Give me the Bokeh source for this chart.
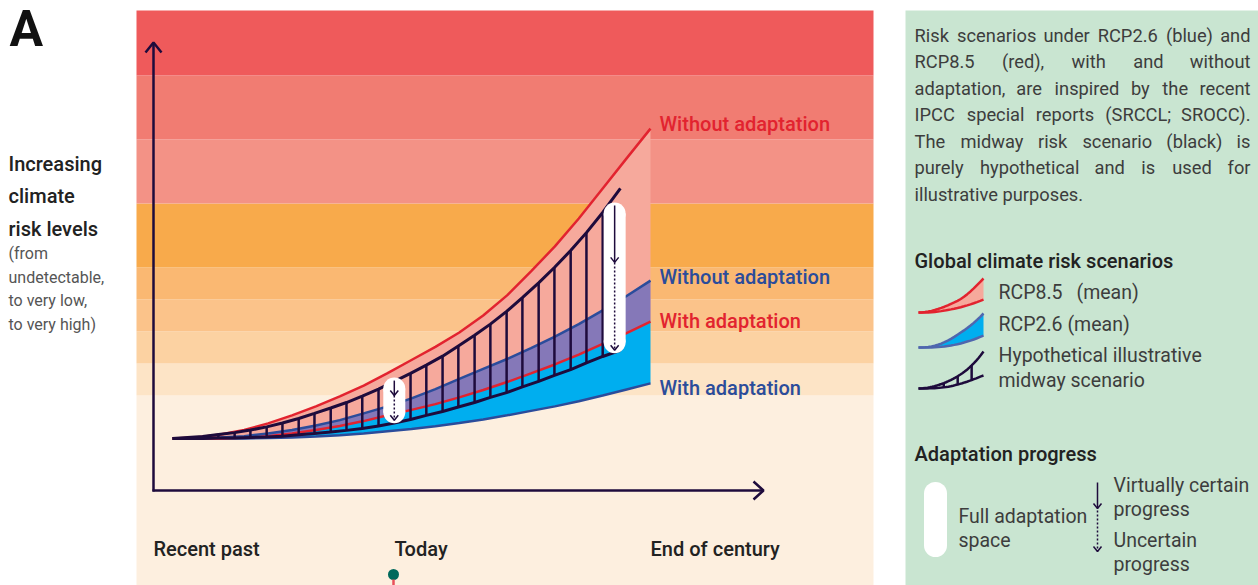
from bokeh.plotting import figure
from bokeh.models import Range1d
from bokeh.core.properties import value
from bokeh.embed import file_html
from bokeh.resources import INLINE

# ---------------- data (time index 0 = recent past, 10 = end of century; risk level units) -------------
time_t = [0, 0.5, 1, 1.5, 2, 2.5, 3, 3.5, 4, 4.5, 5, 5.5, 6, 6.5, 7, 7.5, 8, 8.5, 9, 9.5, 10]
rcp85_without = [1.66, 1.69, 1.78, 1.92, 2.13, 2.38, 2.66, 2.97, 3.31, 3.70, 4.11,
                 4.52, 4.97, 5.50, 6.13, 6.88, 7.66, 8.53, 9.47, 10.41, 11.34]
rcp85_with = [1.66, 1.66, 1.66, 1.69, 1.73, 1.81, 1.92, 2.05, 2.20, 2.38, 2.55,
              2.73, 2.94, 3.17, 3.42, 3.69, 3.97, 4.28, 4.61, 4.95, 5.31]
rcp26_without = [1.66, 1.66, 1.69, 1.73, 1.81, 1.92, 2.06, 2.23, 2.44, 2.66, 2.91,
                 3.20, 3.52, 3.83, 4.14, 4.48, 4.84, 5.23, 5.66, 6.11, 6.59]
rcp26_with = [1.66, 1.66, 1.66, 1.66, 1.67, 1.69, 1.72, 1.76, 1.81, 1.88, 1.95,
              2.04, 2.14, 2.25, 2.38, 2.52, 2.66, 2.82, 3.00, 3.19, 3.38]

midway_t = [0.00, 0.63, 0.96, 1.30, 1.63, 1.97, 2.30, 2.64, 2.97, 3.31, 3.64, 3.97, 4.31, 4.64,
            4.98, 5.31, 5.65, 5.98, 6.32, 6.65, 6.99, 7.32, 7.66, 7.99, 8.33, 8.66, 9.00, 9.37]
midway_upper = [1.66, 1.72, 1.78, 1.84, 1.92, 2.02, 2.14, 2.28, 2.44, 2.61, 2.78, 2.98, 3.20, 3.44,
                3.69, 3.95, 4.23, 4.55, 4.88, 5.23, 5.63, 6.06, 6.52, 7.00, 7.53, 8.09, 8.72, 9.47]
midway_lower = [1.66, 1.66, 1.67, 1.67, 1.69, 1.70, 1.73, 1.77, 1.81, 1.86, 1.91, 1.97, 2.05, 2.14,
                2.25, 2.38, 2.50, 2.64, 2.78, 2.94, 3.09, 3.27, 3.44, 3.63, 3.81, 4.02, 4.22, 4.41]

# adaptation space (today, near end of century)
adapt_t = [4.64, 9.25]
adapt_top = [3.56, 9.03]
adapt_bottom = [2.13, 4.32]
adapt_certain = [3.00, 7.16]

# risk level bands
band_low = [-3, 3, 4, 5, 6, 7, 9, 11, 13]
band_high = [3, 4, 5, 6, 7, 9, 11, 13, 15.03]

time_labels = ["Recent past", "Today", "End of century"]

# ---------------- styles ----------------
band_colors = ["#FDEFDF", "#FDE4C6", "#FCD2A2", "#FBC38A", "#FAB872", "#F8AA4B",
               "#F39286", "#F17C72", "#EF5A5B"]
NAVY = "#1E0B3C"
RED = "#E2232F"
BLUE = "#2B4C9B"
SALMON = "#F6A99C"
PURPLE = "#8578B8"
CYAN = "#00AEEF"
TXT = "#3D3D3D"
DARK = "#222222"
FONT = value("Roboto")
FONT_MED = value("Roboto Medium, Roboto")

PXT = 47.8   # pixels per time unit
PXR = 32.0   # pixels per risk unit
WIDTH, HEIGHT = 1258, 585


def sx(px):
    return (px - 172) / PXT


def sy(py):
    return (491 - py) / PXR


p = figure(width=WIDTH, height=HEIGHT, x_range=Range1d(sx(0), sx(WIDTH)), y_range=Range1d(sy(HEIGHT), sy(0)),
           output_backend="svg", toolbar_location=None, x_axis_location=None, y_axis_location=None,
           min_border=0, outline_line_color=None, background_fill_color="white",
           border_fill_color="white")
p.grid.visible = False


def label(x, y, s, size, color, bold=False, align="left"):
    p.text(x=[sx(x)], y=[sy(y)], text=[s], text_font=FONT_MED if bold else FONT,
           text_font_size=f"{size}px", text_color=color, text_font_style="normal",
           text_align=align, text_baseline="middle")


# ---------------- panels ----------------
p.quad(left=sx(136), right=sx(873), bottom=band_low, top=band_high, fill_color=band_colors, line_color=None)
p.quad(left=[sx(905)], right=[sx(1262)], bottom=[sy(590)], top=[sy(10)], fill_color="#C9E5D1", line_color=None)

# ---------------- scenario fills ----------------
p.varea(x=time_t, y1=rcp85_with, y2=rcp85_without, fill_color=SALMON)
p.varea(x=time_t, y1=rcp85_with, y2=rcp26_without, fill_color=PURPLE)
p.varea(x=time_t, y1=rcp26_with, y2=rcp85_with, fill_color=CYAN)

p.line(time_t, rcp26_with, line_color=BLUE, line_width=2.5)
p.line(time_t, rcp85_with, line_color=RED, line_width=2.5)
p.line(time_t, rcp26_without, line_color=BLUE, line_width=2.5)
p.line(time_t, rcp85_without, line_color=RED, line_width=2.5)

# midway scenario
p.segment(x0=midway_t[1:-1], y0=midway_upper[1:-1], x1=midway_t[1:-1], y1=midway_lower[1:-1],
          line_color=NAVY, line_width=2.5)
p.line(midway_t, midway_upper, line_color=NAVY, line_width=3)
p.line(midway_t, midway_lower, line_color=NAVY, line_width=3)

# adaptation pills
rpad = 11 / PXR
p.vbar(x=adapt_t, width=22 / PXT, top=[v - rpad for v in adapt_top],
       bottom=[v + rpad for v in adapt_bottom], fill_color="white", line_color=None)
p.scatter(x=adapt_t + adapt_t, y=[v - rpad for v in adapt_top] + [v + rpad for v in adapt_bottom],
          size=22, marker="circle", fill_color="white", line_color=None)
off = 3 / PXR
hx = 4 / PXT
hy = 5 / PXR
p.segment(x0=adapt_t, y0=[v - off for v in adapt_top], x1=adapt_t, y1=adapt_certain,
          line_color=NAVY, line_width=1.5)
p.segment(x0=adapt_t, y0=adapt_certain, x1=adapt_t, y1=[v + off for v in adapt_bottom],
          line_color=NAVY, line_width=1.5, line_dash="2 2")
heads_x = []
heads_y = []
for t, c, b in zip(adapt_t, adapt_certain, adapt_bottom):
    for tip in (c, b + off):
        heads_x.append([t - hx, t, t + hx])
        heads_y.append([tip + hy, tip, tip + hy])
p.multi_line(heads_x, heads_y, line_color=NAVY, line_width=1.5)

# axes with arrows
p.line([sx(153), sx(153)], [sy(491), sy(43)], line_color=NAVY, line_width=2.5)
p.line([sx(145), sx(153), sx(161)], [sy(52), sy(42), sy(52)], line_color=NAVY, line_width=2.5)
p.line([sx(152), sx(762)], [sy(490), sy(490)], line_color=NAVY, line_width=2.5)
p.line([sx(753), sx(763), sx(753)], [sy(481), sy(490), sy(499)], line_color=NAVY, line_width=2.5)

# scenario labels
label(659, 123, "Without adaptation", 20, RED, bold=True)
label(659, 276, "Without adaptation", 20, BLUE, bold=True)
label(659, 320, "With adaptation", 20, RED, bold=True)
label(659, 387, "With adaptation", 20, BLUE, bold=True)

# time labels
for xpx, s in zip([153, 394, 650], time_labels):
    label(xpx, 548, s, 20, DARK, bold=True)
p.scatter(x=[sx(393)], y=[sy(574)], size=11, marker="circle", fill_color="#00695C", line_color=None)
p.line([sx(393), sx(393)], [sy(579), sy(590)], line_color="#E8505B", line_width=2.5)

# left texts
p.text(x=[sx(9)], y=[sy(28)], text=["A"], text_font=FONT, text_font_size="50px", text_color="#111111",
       text_font_style="bold", text_align="left", text_baseline="middle")
for yy, s in zip([163, 195, 228], ["Increasing", "climate", "risk levels"]):
    label(8, yy, s, 20, DARK, bold=True)
for yy, s in zip([253, 277, 300, 324], ["(from", "undetectable,", "to very low,", "to very high)"]):
    label(8, yy, s, 16, "#555555")

# paragraph (justified by word placement)
ADV = {" ": 0.248, "a": 0.532, "b": 0.547, "c": 0.510, "d": 0.550, "e": 0.517, "f": 0.340,
       "g": 0.547, "h": 0.538, "i": 0.237, "k": 0.495, "l": 0.237, "m": 0.856, "n": 0.539,
       "o": 0.557, "p": 0.547, "r": 0.331, "s": 0.503, "t": 0.319, "u": 0.538, "v": 0.473,
       "w": 0.733, "y": 0.462, "R": 0.602, "C": 0.636, "P": 0.616, "I": 0.272, "S": 0.579,
       "L": 0.526, "O": 0.671, "T": 0.597, ".": 0.257, ",": 0.192, "(": 0.334, ")": 0.340,
       ";": 0.207}


def tw(s, size):
    return sum(ADV.get(ch, 0.562) for ch in s) * size


PSIZE = 18.3
para_lines = [
    "Risk scenarios under RCP2.6 (blue) and",
    "RCP8.5 (red), with and without",
    "adaptation, are inspired by the recent",
    "IPCC special reports (SRCCL; SROCC).",
    "The midway risk scenario (black) is",
    "purely hypothetical and is used for",
]
para_y = [34.5, 61, 87.5, 114, 140.5, 167]
left_px, right_px = 914, 1250
for yy, line in zip(para_y, para_lines):
    words = line.split(" ")
    widths = [tw(w, PSIZE) for w in words]
    gap = (right_px - left_px - sum(widths)) / (len(words) - 1)
    xx = left_px
    for w, wd in zip(words[:-1], widths[:-1]):
        label(xx, yy, w, PSIZE, TXT)
        xx += wd + gap
    label(right_px, yy, words[-1], PSIZE, TXT, align="right")
label(914, 193.5, "illustrative purposes.", PSIZE, TXT)

# legend: global climate risk scenarios
label(914, 260, "Global climate risk scenarios", 20, DARK, bold=True)


def icon(x0, x1, ybase, ytop, upper, lower, ts, fill, line_col):
    k = (ybase - ytop) / (max(upper) - upper[0])
    tmax = ts[-1]
    xs = [sx(x0 + t / tmax * (x1 - x0)) for t in ts]
    yu = [sy(ybase - (r - upper[0]) * k) for r in upper]
    yl = [sy(ybase - (r - lower[0]) * k) for r in lower]
    if fill:
        p.varea(x=xs, y1=yl, y2=yu, fill_color=fill)
    p.line(xs, yl, line_color=line_col, line_width=2.5)
    p.line(xs, yu, line_color=line_col, line_width=2.5)
    return xs, yu, yl


icon(918, 983, 312, 278, rcp85_without, rcp85_with, time_t, SALMON, RED)
icon(918, 983, 347, 313, rcp26_without, rcp26_with, time_t, CYAN, "#4F66AE")
mx, mu, ml = icon(918, 983, 388, 351, midway_upper, midway_lower, midway_t, None, NAVY)
sel = [10, 16, 22]
p.segment(x0=[mx[i] for i in sel], y0=[mu[i] for i in sel], x1=[mx[i] for i in sel],
          y1=[ml[i] for i in sel], line_color=NAVY, line_width=2.5)

LSIZE = 19.5
label(998, 292, "RCP8.5", LSIZE, TXT)
label(1076, 292, "(mean)", LSIZE, TXT)
label(998, 324, "RCP2.6 (mean)", LSIZE, TXT)
label(998, 355, "Hypothetical illustrative", LSIZE, TXT)
label(998, 380, "midway scenario", LSIZE, TXT)

# legend: adaptation progress
label(914, 453, "Adaptation progress", 20, DARK, bold=True)
p.vbar(x=[sx(935)], width=23 / PXT, top=[sy(493)], bottom=[sy(545)], fill_color="white", line_color=None)
p.scatter(x=[sx(935), sx(935)], y=[sy(493), sy(545)], size=23, marker="circle",
          fill_color="white", line_color=None)
label(958, 516, "Full adaptation", LSIZE, TXT)
label(958, 540, "space", LSIZE, TXT)
p.line([sx(1097), sx(1097)], [sy(482), sy(508)], line_color=NAVY, line_width=1.5)
p.line([sx(1097), sx(1097)], [sy(510), sy(551)], line_color=NAVY, line_width=1.5, line_dash="2 2")
p.multi_line([[sx(1093), sx(1097), sx(1101)], [sx(1093), sx(1097), sx(1101)]],
             [[sy(503), sy(508), sy(503)], [sy(546), sy(551), sy(546)]], line_color=NAVY, line_width=1.5)
label(1113, 485, "Virtually certain", LSIZE, TXT)
label(1113, 509, "progress", LSIZE, TXT)
label(1113, 540, "Uncertain", LSIZE, TXT)
label(1113, 564, "progress", LSIZE, TXT)

open("out.html", "w").write(file_html(p, INLINE))
